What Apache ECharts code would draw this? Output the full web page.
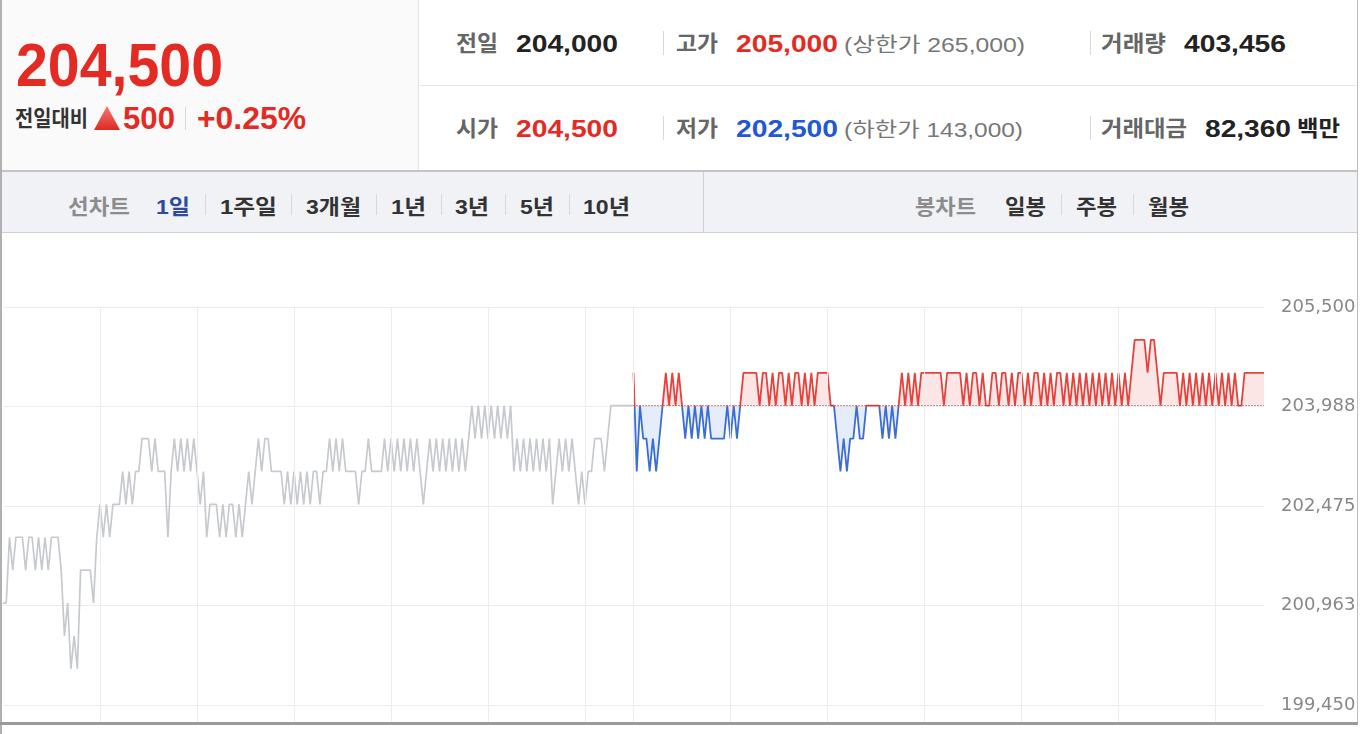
<!DOCTYPE html>
<html><head><meta charset="utf-8">
<script src="https://cdn.jsdelivr.net/npm/echarts@6/dist/echarts.min.js"></script>
<style>
html,body{margin:0;padding:0;width:1360px;height:734px;overflow:hidden;background:#fff;font-family:"Liberation Sans","Noto Sans CJK KR",sans-serif;}
.a{position:absolute;}
.t{position:absolute;white-space:nowrap;transform-origin:0 0;}
</style></head>
<body>
<div class="a" style="left:0;top:0;width:418px;height:170px;background:#fafafa;border-right:1px solid #e2e2e2;"></div>
<div class="a" style="left:419px;top:85px;width:938px;height:1px;background:#e8e8e8;"></div>
<div class="a" style="left:0;top:170px;width:1358px;height:63px;background:#f1f2f6;border-top:2px solid #c4c4c4;border-bottom:1px solid #cfcfcf;box-sizing:border-box;"></div>
<div class="a" style="left:703px;top:172px;width:1px;height:60px;background:#cfcfcf;"></div>
<div class="a" style="left:94px;top:106px;width:26px;height:24px;background:linear-gradient(#f47a74,#dd2a22);clip-path:polygon(50% 0,100% 100%,0 100%);"></div>
<div id="chart" class="a" style="left:0;top:233px;width:1360px;height:501px;"></div>
<div class="a" style="left:0;top:0;width:2px;height:734px;background:#b0b0b0;z-index:5;"></div>
<div class="a" style="left:1357px;top:0;width:1px;height:724px;background:#bdbdbd;z-index:5;"></div>
<div class="a" style="left:0;top:722px;width:1358px;height:3px;background:#9a9a9a;z-index:5;"></div>
<script>
// ---- data ----
const prevClose = 204000;
const sampleMinutes = 2;      // one point every 2 minutes
const sessionMinutes = 390;   // 09:00 - 15:30
const gridMinutes = [60,120,180,240,300,360,390,450,510,570,630,690,750];
const yMin = 199450, yMax = 205500, yStep = 1512.5;

// previous session (grey)
const prevPrices = [
201000,201000,202000,201500,202000,202000,202000,201500,202000,202000,
201500,202000,201500,202000,201500,202000,202000,202000,201500,200500,
201000,200000,200500,200000,201500,201500,201500,201500,201000,202000,
202500,202000,202500,202000,202500,202500,202500,203000,202500,203000,
202500,203000,203000,203500,203500,203500,203000,203500,203000,203000,
203000,202000,203000,203500,203000,203500,203000,203500,203000,203500,
203000,202500,203000,202000,202500,202500,202500,202000,202500,202000,
202500,202500,202000,202500,202000,202500,203000,202500,203000,203500,
203000,203500,203500,203000,203000,203000,203000,202500,203000,202500,
203000,202500,203000,202500,203000,202500,203000,203000,202500,203000,
203000,203500,203000,203500,203000,203500,203000,203000,203000,203000,
202500,203000,203000,203500,203000,203000,203000,203000,203500,203000,
203500,203000,203500,203000,203500,203000,203500,203000,203500,203000,
202500,203000,203500,203000,203500,203000,203500,203000,203500,203000,
203500,203000,203500,203000,203500,204000,203500,204000,203500,204000,
203500,204000,203500,204000,203500,204000,203500,204000,203000,203500,
203000,203500,203000,203500,203000,203500,203000,203500,203000,203500,
202500,203000,203500,203000,203500,203000,203500,203000,202500,203000,
202500,203000,203000,203500,203500,203500,203000,203500,204000,204000,
204000,204000,204000,204000,204000,204000
];

// current session (red above / blue below previous close)
const todayPrices = [
204500,203000,204000,203500,203500,203000,203500,203000,203500,204000,
204500,204000,204500,204000,204500,204000,203500,204000,203500,204000,
203500,204000,203500,204000,203500,203500,203500,203500,203500,204000,
203500,204000,203500,204000,204500,204500,204500,204500,204500,204000,
204500,204500,204000,204500,204000,204500,204500,204000,204500,204000,
204500,204500,204000,204500,204000,204500,204000,204500,204500,204500,
204500,204000,204000,203500,203000,203500,203000,203500,203500,204000,
203500,203500,204000,204000,204000,204000,204000,203500,204000,203500,
204000,203500,204000,204500,204000,204500,204000,204500,204000,204500,
204500,204500,204500,204500,204500,204500,204000,204500,204500,204500,
204500,204500,204000,204500,204000,204500,204500,204000,204500,204000,
204000,204500,204500,204000,204500,204500,204000,204500,204000,204500,
204500,204000,204500,204000,204500,204500,204000,204500,204000,204500,
204000,204500,204500,204000,204500,204000,204500,204000,204500,204000,
204500,204000,204500,204000,204500,204000,204500,204000,204500,204000,
204500,204000,204500,204000,204500,205000,205000,205000,205000,204500,
205000,205000,204500,204000,204500,204500,204500,204500,204500,204000,
204500,204000,204500,204000,204500,204000,204500,204000,204500,204000,
204500,204000,204500,204000,204500,204000,204500,204000,204000,204500,
204500,204500,204500,204500,204500,204500
];

// ---- header / tab texts ----
const RED = '#e32b23', BLUE = '#2158d6', LAB = '#666', DARK = '#222';
// [text, left, baseline, fontSize, weight, color, width]
const texts = [
  ['204,500', 16, 86, 62, 700, RED, 207],
  ['전일대비', 15, 127, 22, 700, '#333', 73],
  ['500', 123, 129.5, 31, 700, RED, 52],
  ['+0.25%', 197, 129.5, 31, 700, RED, 109],
  ['전일', 456, 51.5, 22, 700, LAB, 42],
  ['204,000', 516, 52, 24, 700, DARK, 102],
  ['고가', 676, 51.5, 22, 700, LAB, 42],
  ['205,000', 736, 52, 24, 700, RED, 102],
  ['(상한가 265,000)', 844, 52, 20, 400, '#777', 181],
  ['거래량', 1101, 51.5, 22, 700, LAB, 65],
  ['403,456', 1184, 52, 24, 700, DARK, 102],
  ['시가', 456, 136.5, 22, 700, LAB, 42],
  ['204,500', 516, 137, 24, 700, RED, 102],
  ['저가', 676, 136.5, 22, 700, LAB, 42],
  ['202,500', 736, 137, 24, 700, BLUE, 102],
  ['(하한가 143,000)', 844, 137, 20, 400, '#777', 179],
  ['거래대금', 1101, 136.5, 22, 700, LAB, 86],
  ['82,360', 1205, 137, 24, 700, DARK, 86],
  ['백만', 1297, 136.5, 22, 700, DARK, 43],
  ['선차트', 68, 213.5, 21, 700, '#8c8c8c', 62],
  ['1일', 156, 213.5, 21, 700, '#2b4aa0', 34],
  ['1주일', 220, 213.5, 21, 700, '#333', 57],
  ['3개월', 306, 213.5, 21, 700, '#333', 55],
  ['1년', 391, 213.5, 21, 700, '#333', 35],
  ['3년', 455, 213.5, 21, 700, '#333', 34],
  ['5년', 520, 213.5, 21, 700, '#333', 34],
  ['10년', 583, 213.5, 21, 700, '#333', 47],
  ['봉차트', 915, 213.5, 21, 700, '#8c8c8c', 61],
  ['일봉', 1005, 213.5, 21, 700, '#333', 41],
  ['주봉', 1076, 213.5, 21, 700, '#333', 41],
  ['월봉', 1148, 213.5, 21, 700, '#333', 41]
];
// separators [x, top, height]
const seps = [[185,107,23],[663,31,24],[1090,31,24],[663,116,24],[1090,116,24],
  [205,194,21],[291,194,21],[376,194,21],[441,194,21],[505,194,21],[569,194,21],[1061,194,21],[1133,194,21]];

const made = [];
texts.forEach(t => {
  const [txt, x, base, size, weight, color, w] = t;
  const d = document.createElement('div');
  d.className = 't';
  d.textContent = txt;
  d.style.left = x + 'px';
  d.style.top = (base - 0.8465 * size) + 'px';
  d.style.fontSize = size + 'px';
  d.style.lineHeight = size + 'px';
  d.style.fontWeight = weight;
  d.style.color = color;
  document.body.appendChild(d);
  made.push([d, w]);
});
function fit(){
  made.forEach(([d, w]) => {
    d.style.transform = 'none';
    const nat = d.getBoundingClientRect().width;
    if (w && nat > 0) d.style.transform = 'scaleX(' + (w / nat) + ')';
  });
}
fit();
if (document.fonts && document.fonts.ready) document.fonts.ready.then(fit);
seps.forEach(s => {
  const d = document.createElement('div');
  d.className = 'a';
  d.style.cssText = 'left:' + s[0] + 'px;top:' + s[1] + 'px;width:1px;height:' + s[2] + 'px;background:#d9d9d9;';
  document.body.appendChild(d);
});

// ---- chart ----
const prevData = prevPrices.map((v, i) => [i * sampleMinutes, v]);
const todayData = todayPrices.map((v, j) => [sessionMinutes + j * sampleMinutes, v]);
const totalMinutes = sessionMinutes * 2;

const chart = echarts.init(document.getElementById('chart'), null, {renderer: 'canvas'});
chart.setOption({
  animation: false,
  backgroundColor: '#fff',
  grid: [
    {left: 3, right: 96, top: 74, bottom: 29},
    {left: 3, right: 96, top: 74, bottom: 11}
  ],
  xAxis: [
    {type: 'value', gridIndex: 0, min: 0, max: totalMinutes, show: false},
    {type: 'value', gridIndex: 1, min: 0, max: totalMinutes, show: false}
  ],
  yAxis: [
    {type: 'value', gridIndex: 0, position: 'right', min: yMin, max: yMax, interval: yStep,
     axisLine: {show: false}, axisTick: {show: false},
     splitLine: {show: true, lineStyle: {color: '#ebebeb', width: 1}},
     axisLabel: {margin: 17, color: '#888', fontSize: 18, fontFamily: 'DejaVu Sans',
       formatter: v => Math.round(v).toLocaleString('en-US')}},
    {type: 'value', gridIndex: 1, min: 0, max: 1, show: false}
  ],
  visualMap: {
    type: 'piecewise', show: false, seriesIndex: 2, dimension: 1,
    pieces: [
      {min: yMin - 5000, max: prevClose - 20, color: '#3a6ed5'},
      {min: prevClose - 20, max: yMax + 5000, color: '#e8403a'}
    ],
    outOfRange: {color: '#999'}
  },
  series: [
    {type: 'line', xAxisIndex: 1, yAxisIndex: 1, data: [[0, 0]], showSymbol: false, silent: true,
     lineStyle: {opacity: 0}, z: 0,
     markLine: {silent: true, symbol: ['none', 'none'], animation: false, label: {show: false},
       lineStyle: {color: '#ececec', width: 1, type: 'solid'},
       data: gridMinutes.map(m => ({xAxis: m}))}},
    {type: 'line', data: prevData, showSymbol: false, silent: true,
     lineStyle: {color: '#c6c9ce', width: 1.7}, itemStyle: {color: '#c6c9ce'}, z: 4,
     markLine: {silent: true, symbol: ['none', 'none'], animation: false, label: {show: false},
       lineStyle: {color: '#555', width: 1, type: [1, 2]},
       data: [[{coord: [sessionMinutes, prevClose]}, {coord: [totalMinutes, prevClose]}]]}},
    {type: 'line', data: todayData, showSymbol: false, silent: true,
     lineStyle: {width: 1.8}, areaStyle: {origin: prevClose, opacity: 0.13}, z: 3}
  ]
});
</script>
</body></html>
